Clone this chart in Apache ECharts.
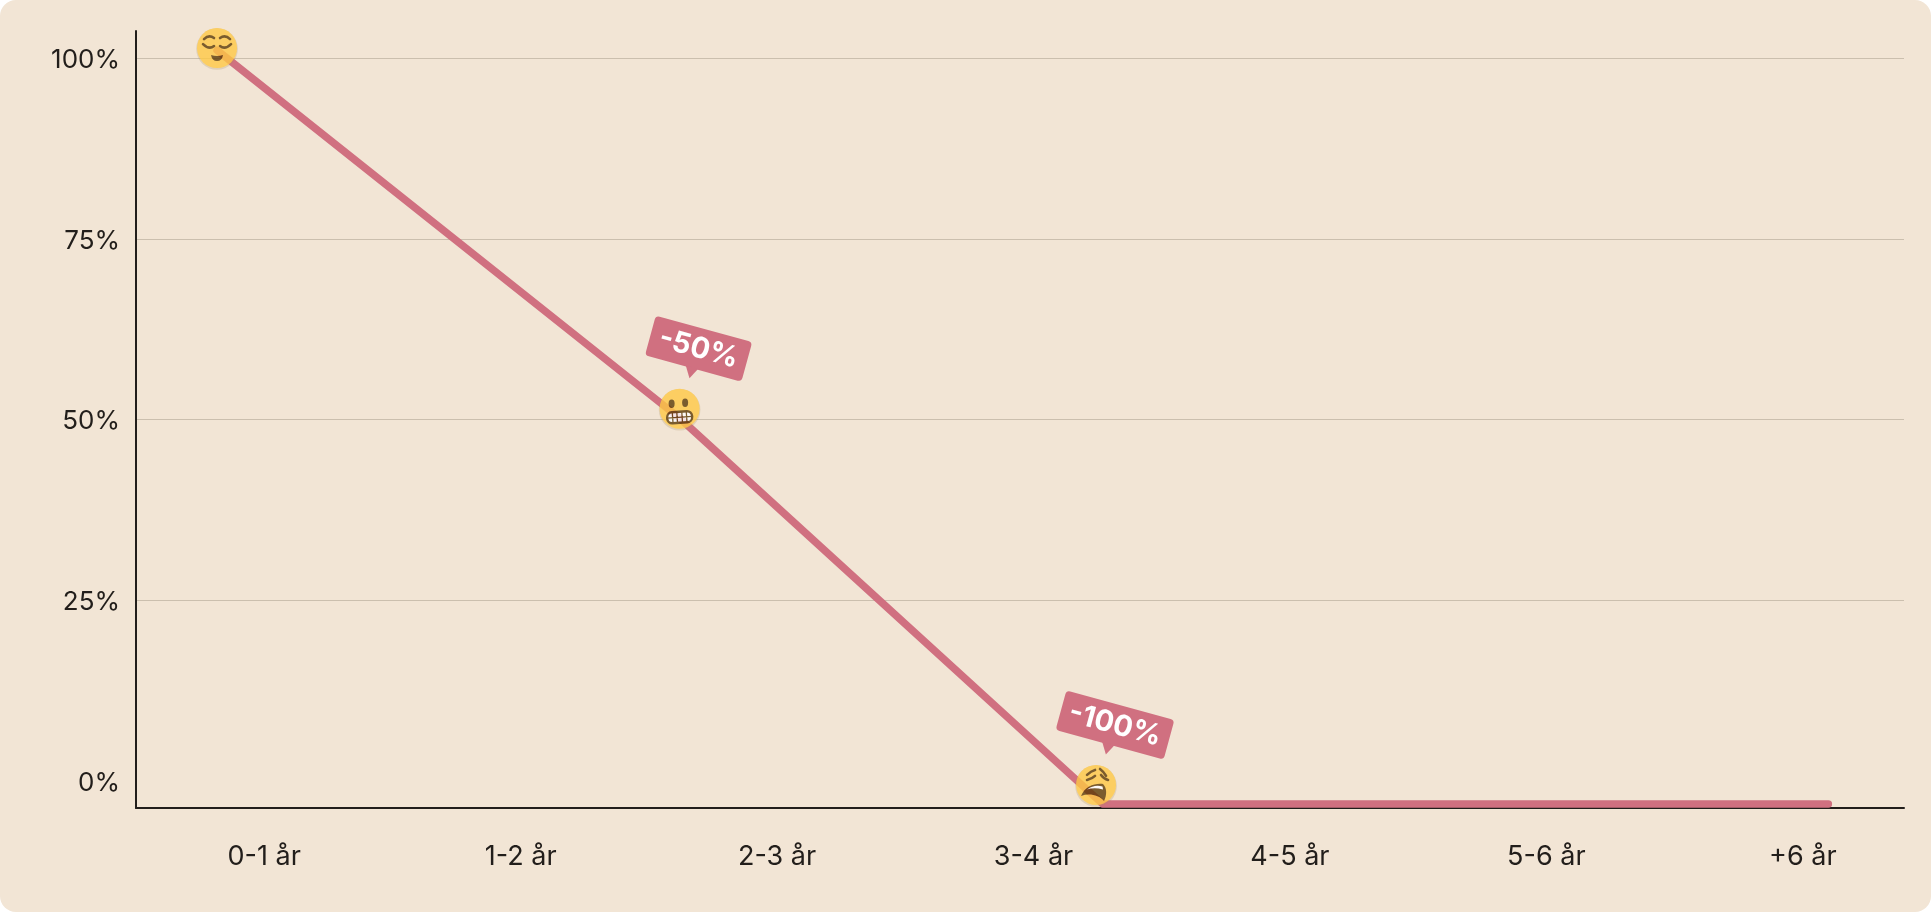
<!DOCTYPE html>
<html>
  <head>
    <meta charset="utf-8">
    <title></title>
    <style media="screen">
    html,body{margin:0; padding:0; background:#fff;}
    .box{
       width:1931px;
       height:912px;
       background:#f2e5d5;
       border-radius:16px;
       overflow:hidden;
    }
    </style>
    <script src="https://cdn.jsdelivr.net/npm/echarts@6/dist/echarts.min.js" charset="utf-8"></script>
    <script>
    // axis labels
    let categories = ['0-1 år','1-2 år','2-3 år','3-4 år','4-5 år','5-6 år','+6 år'];
    let yTicks = [0,25,50,75,100];
    let gridTicks = [25,50,75,100];

    // the line (x counted in category bands from the left axis)
    let lineX = [0.316,2.12,3.77,6.60];
    let lineY = [101.1,50.2,-3.2,-3.2];

    // emoji markers
    let emojiX = [0.316,2.12,3.744];
    let emojiY = [101.4,51.5,-0.55];
    let emojiNames = ['relieved','grimace','weary'];

    // speech bubbles, attached to emoji 1 and 2
    let tagEmoji = [1,2];
    let tagText = ['-50%','-100%'];

    const PINK = '#d07080';
    const INK = '#221e1b';
    const FONT = 'Inter, "Noto Sans", sans-serif';

    const brown = '#5c3a04';
    let faces = {
      relieved: `<path d="M-13 -9 Q-8 -14 -3 -10 M3 -10 Q8 -14 13 -9" fill="none" stroke="${brown}" stroke-width="2.600" stroke-linecap="round"/>
        <path d="M-14 -4 Q-8 2 -3 -2 M3 -2 Q8 2 14 -4" fill="none" stroke="${brown}" stroke-width="2.600" stroke-linecap="round"/>
        <path d="M-6 7 Q0 9 6 7 Q5 13 0 13 Q-5 13 -6 7Z" fill="${brown}"/>`,
      grimace: `<ellipse cx="-8" cy="-5" rx="3" ry="4.200" fill="${brown}"/>
        <ellipse cx="5.500" cy="-6" rx="3" ry="4.200" fill="${brown}"/>
        <g transform="rotate(-4 0 8)"><rect x="-12.500" y="3" width="25" height="11" rx="5" fill="#fff" stroke="${brown}" stroke-width="2.400"/>
        <path d="M-7 3V14M-2.500 3V14M2.500 3V14M7 3V14M-12.500 8.500H12.500" stroke="${brown}" stroke-width="1.300"/></g>`,
      weary: `<path d="M-9 -10 Q-5 -14 -1 -15 M4 -16 Q8 -13 10 -9" fill="none" stroke="${brown}" stroke-width="2.600" stroke-linecap="round"/>
        <path d="M-9 -5 Q-4 -6 -1 -9 M5 -10 Q8 -6 12 -5" fill="none" stroke="${brown}" stroke-width="2.600" stroke-linecap="round"/>
        <path d="M-15 11 C-11 1 -1 -2 7 -1 C11 3 11 10 8 16 C3 10 -7 8 -15 11Z" fill="${brown}"/>
        <path d="M-9 4.500 C-4 1 1 0 6.500 1.500 L7 4.500 C1 3 -4 3 -9 4.500Z" fill="#fff"/>`
    };

    function emojiSymbol(name){
      let svg = `<svg xmlns="http://www.w3.org/2000/svg" width="48" height="48" viewBox="-24 -24 48 48">
        <circle cx="0" cy="1" r="20.800" fill="#a98f5c" opacity="0.3"/>
        <circle cx="0" cy="0" r="20" fill="#fec845"/>${faces[name]}</svg>`;
      return 'image://data:image/svg+xml;charset=utf-8,' + encodeURIComponent(svg);
    }

    function renderTag(params, api){
      let i = api.value(2);
      let text = tagText[i];
      let p = api.coord([api.value(0), api.value(1)]);
      let w = 52 + 12 * text.length;
      let h = 41;
      return {
        type:'group',
        x:p[0] + 19,
        y:p[1] - 60,
        rotation:-15.3 * Math.PI / 180,
        children:[
          {type:'rect', shape:{x:-w/2, y:-h/2, width:w, height:h, r:4}, style:{fill:PINK}},
          {type:'polygon', shape:{points:[[-8,h/2-1],[5,h/2-1],[-1,31]]}, style:{fill:PINK}},
          {type:'text', style:{x:0, y:0, text:text, fill:'#fff', align:'center', verticalAlign:'middle',
            font:'700 29px ' + FONT}}
        ]
      };
    }

    window.onload = function(){
      let chart = echarts.init(document.querySelector('.box'));
      chart.setOption({
        animation:false,
        // grid 0 holds the plot, grid 1 only carries the x labels (they run wider than the plot)
        grid:[
          {left:136, top:31, width:1768, height:777},
          {left:136, top:31, width:1795, height:777}
        ],
        xAxis:[
          {
            type:'value', gridIndex:0, min:0, max:6.895,
            axisLine:{show:true, onZero:false, lineStyle:{color:INK, width:2}},
            axisTick:{show:false}, axisLabel:{show:false}, splitLine:{show:false}
          },
          {
            type:'category', gridIndex:1, data:categories,
            axisLine:{show:false}, axisTick:{show:false},
            axisLabel:{color:INK, fontFamily:FONT, fontSize:27, margin:35}
          }
        ],
        yAxis:[
          {
            type:'value', gridIndex:0, min:-3.74, max:103.76,
            axisLine:{show:true, lineStyle:{color:INK, width:2}},
            axisTick:{show:false, customValues:gridTicks},
            axisLabel:{customValues:yTicks, formatter:'{value}%', color:INK, fontFamily:FONT, fontSize:26, margin:16,
              verticalAlign:'top', lineHeight:4},
            splitLine:{show:true, lineStyle:{color:'#cbbfae', width:1}}
          },
          {
            type:'value', gridIndex:1, min:-3.74, max:103.76, show:false
          }
        ],
        series:[
          {
            type:'line', xAxisIndex:0, yAxisIndex:0,
            data:lineX.map((x,i)=>[x,lineY[i]]),
            showSymbol:false, symbol:'none', silent:true, clip:false,
            lineStyle:{color:PINK, width:7.5, cap:'round', join:'round'},
            z:3
          },
          {
            type:'custom', xAxisIndex:0, yAxisIndex:0, clip:false, silent:true,
            data:tagEmoji.map((e,i)=>[emojiX[e],emojiY[e],i]),
            renderItem:renderTag,
            z:4
          },
          {
            type:'scatter', xAxisIndex:0, yAxisIndex:0, clip:false, silent:true,
            data:emojiX.map((x,i)=>({value:[x,emojiY[i]], symbol:emojiSymbol(emojiNames[i]), symbolSize:48})),
            z:5
          }
        ]
      });
    }
    </script>
  </head>
  <body>
    <div class="box"></div>
  </body>
</html>
